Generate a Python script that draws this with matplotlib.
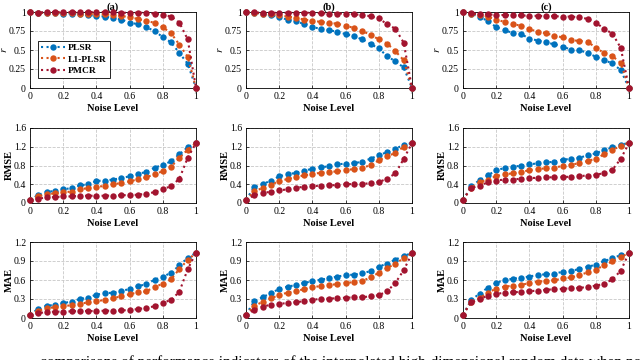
import matplotlib.pyplot as plt
import numpy as np

plt.rcParams['font.family'] = ['Liberation Serif', 'DejaVu Serif']
plt.rcParams['mathtext.fontset'] = 'stix'

noise = np.round(np.arange(0, 1.0001, 0.05), 2)
methods = ["PLSR", "L1-PLSR", "PMCR"]
colors = ["#0072BD", "#D95319", "#A2142F"]
panels = ["(a)", "(b)", "(c)"]

# r (correlation)
r_a = [[1, 0.99, 0.99, 0.99, 0.98, 0.98, 0.97, 0.96, 0.95, 0.94, 0.92, 0.90, 0.86, 0.84, 0.80, 0.75, 0.67, 0.60, 0.46, 0.32, 0],
       [1, 0.99, 0.99, 0.99, 0.99, 0.99, 0.98, 0.98, 0.97, 0.97, 0.96, 0.95, 0.93, 0.91, 0.88, 0.86, 0.80, 0.72, 0.57, 0.41, 0],
       [1, 0.99, 1, 1, 1, 1, 1, 1, 1, 1, 0.995, 0.99, 0.99, 0.99, 0.99, 0.98, 0.965, 0.94, 0.86, 0.64, 0]]
r_b = [[1, 0.99, 0.98, 0.96, 0.93, 0.90, 0.88, 0.84, 0.80, 0.78, 0.76, 0.74, 0.71, 0.68, 0.64, 0.58, 0.52, 0.42, 0.35, 0.27, 0],
       [1, 0.99, 0.98, 0.97, 0.96, 0.94, 0.925, 0.90, 0.885, 0.87, 0.86, 0.845, 0.82, 0.79, 0.75, 0.70, 0.64, 0.585, 0.485, 0.365, 0],
       [1, 0.995, 0.99, 0.99, 0.99, 0.99, 0.99, 0.99, 0.99, 0.985, 0.98, 0.98, 0.98, 0.97, 0.96, 0.945, 0.915, 0.84, 0.78, 0.595, 0]]
r_c = [[1, 0.98, 0.93, 0.885, 0.80, 0.765, 0.72, 0.71, 0.65, 0.625, 0.60, 0.575, 0.545, 0.505, 0.495, 0.465, 0.41, 0.365, 0.325, 0.235, 0],
       [1, 0.98, 0.96, 0.94, 0.90, 0.87, 0.84, 0.82, 0.775, 0.74, 0.72, 0.69, 0.665, 0.63, 0.62, 0.61, 0.53, 0.46, 0.42, 0.33, 0],
       [1, 0.985, 0.97, 0.97, 0.96, 0.96, 0.955, 0.955, 0.95, 0.95, 0.945, 0.945, 0.94, 0.94, 0.93, 0.91, 0.86, 0.78, 0.715, 0.53, 0]]

# RMSE
rmse_a = [[0.07, 0.17, 0.24, 0.255, 0.29, 0.32, 0.375, 0.40, 0.47, 0.48, 0.50, 0.53, 0.57, 0.625, 0.66, 0.755, 0.81, 0.89, 1.04, 1.19, 1.28],
          [0.07, 0.14, 0.19, 0.205, 0.235, 0.24, 0.29, 0.32, 0.35, 0.36, 0.40, 0.425, 0.46, 0.505, 0.55, 0.61, 0.68, 0.775, 0.96, 1.14, 1.28],
          [0.07, 0.09, 0.12, 0.125, 0.14, 0.14, 0.155, 0.155, 0.155, 0.155, 0.16, 0.165, 0.17, 0.175, 0.20, 0.23, 0.30, 0.355, 0.52, 0.965, 1.28]]
rmse_b = [[0.07, 0.34, 0.405, 0.475, 0.57, 0.61, 0.645, 0.69, 0.73, 0.765, 0.78, 0.825, 0.84, 0.85, 0.88, 0.945, 1.02, 1.085, 1.16, 1.235, 1.28],
          [0.07, 0.25, 0.32, 0.385, 0.47, 0.51, 0.55, 0.59, 0.62, 0.645, 0.66, 0.675, 0.70, 0.725, 0.745, 0.81, 0.91, 0.995, 1.07, 1.20, 1.28],
          [0.07, 0.165, 0.215, 0.24, 0.27, 0.29, 0.32, 0.35, 0.36, 0.37, 0.375, 0.385, 0.40, 0.405, 0.41, 0.42, 0.445, 0.52, 0.63, 0.94, 1.28]]
rmse_c = [[0.07, 0.355, 0.49, 0.59, 0.70, 0.745, 0.775, 0.795, 0.825, 0.845, 0.865, 0.88, 0.925, 0.94, 0.965, 1.015, 1.06, 1.13, 1.185, 1.245, 1.28],
          [0.07, 0.33, 0.445, 0.50, 0.575, 0.61, 0.635, 0.66, 0.70, 0.725, 0.74, 0.755, 0.79, 0.815, 0.85, 0.895, 0.945, 1.04, 1.13, 1.22, 1.28],
          [0.07, 0.32, 0.37, 0.44, 0.48, 0.50, 0.50, 0.52, 0.535, 0.535, 0.545, 0.55, 0.555, 0.56, 0.575, 0.585, 0.60, 0.64, 0.71, 0.94, 1.28]]

# MAE
mae_a = [[0.055, 0.145, 0.195, 0.205, 0.235, 0.26, 0.30, 0.32, 0.37, 0.39, 0.40, 0.43, 0.455, 0.505, 0.53, 0.605, 0.65, 0.715, 0.83, 0.95, 1.03],
         [0.055, 0.115, 0.155, 0.17, 0.19, 0.20, 0.225, 0.245, 0.265, 0.285, 0.315, 0.34, 0.375, 0.405, 0.42, 0.49, 0.54, 0.61, 0.775, 0.915, 1.03],
         [0.055, 0.075, 0.095, 0.10, 0.10, 0.105, 0.11, 0.11, 0.11, 0.115, 0.115, 0.12, 0.125, 0.14, 0.16, 0.185, 0.24, 0.285, 0.415, 0.77, 1.03]]
mae_b = [[0.055, 0.265, 0.33, 0.39, 0.46, 0.495, 0.52, 0.555, 0.58, 0.605, 0.625, 0.655, 0.675, 0.685, 0.705, 0.74, 0.81, 0.86, 0.92, 0.985, 1.02],
         [0.055, 0.19, 0.255, 0.31, 0.365, 0.40, 0.425, 0.455, 0.485, 0.505, 0.515, 0.54, 0.555, 0.565, 0.585, 0.64, 0.715, 0.79, 0.855, 0.945, 1.02],
         [0.055, 0.13, 0.18, 0.21, 0.225, 0.235, 0.25, 0.265, 0.29, 0.30, 0.305, 0.315, 0.32, 0.325, 0.33, 0.34, 0.36, 0.42, 0.555, 0.755, 1.02]]
mae_c = [[0.055, 0.285, 0.385, 0.48, 0.555, 0.60, 0.62, 0.635, 0.655, 0.68, 0.69, 0.70, 0.73, 0.74, 0.775, 0.81, 0.84, 0.90, 0.94, 0.995, 1.03],
         [0.055, 0.26, 0.315, 0.40, 0.465, 0.495, 0.51, 0.52, 0.555, 0.575, 0.585, 0.595, 0.625, 0.64, 0.675, 0.72, 0.765, 0.83, 0.895, 0.96, 1.03],
         [0.055, 0.245, 0.295, 0.355, 0.38, 0.40, 0.405, 0.415, 0.425, 0.43, 0.445, 0.455, 0.46, 0.47, 0.475, 0.49, 0.51, 0.54, 0.61, 0.745, 1.03]]

rows = [
    ([r_a, r_b, r_c], "$r$", [0, 0.25, 0.5, 0.75, 1], ["0", "0.25", "0.5", "0.75", "1"], 1.0),
    ([rmse_a, rmse_b, rmse_c], "RMSE", [0, 0.4, 0.8, 1.2, 1.6], ["0", "0.4", "0.8", "1.2", "1.6"], 1.6),
    ([mae_a, mae_b, mae_c], "MAE", [0, 0.3, 0.6, 0.9, 1.2], ["0", "0.3", "0.6", "0.9", "1.2"], 1.2),
]

W, H = 640, 360
lefts = [30, 246, 463]
tops = [12, 128, 242]
bottoms = [88, 203, 318]
aw = 166

fig = plt.figure(figsize=(6.4, 3.6), dpi=100)

for i, (data, ylab, yt, ytl, ymax) in enumerate(rows):
    for j in range(3):
        ax = fig.add_axes([lefts[j] / W, 1 - bottoms[i] / H, aw / W, (bottoms[i] - tops[i]) / H])
        for k in range(3):
            ax.plot(noise, data[j][k], ':', color=colors[k], lw=1.5, marker='o',
                    ms=4.6, mew=0, mfc=colors[k], label=methods[k], clip_on=False, zorder=3 + k)
        ax.set_xlim(0, 1)
        ax.set_ylim(0, ymax)
        ax.set_xticks([0, 0.2, 0.4, 0.6, 0.8, 1])
        ax.set_xticklabels(["0", "0.2", "0.4", "0.6", "0.8", "1"])
        ax.set_yticks(yt)
        ax.set_yticklabels(ytl)
        ax.tick_params(direction='in', length=2, width=0.5, labelsize=7, pad=3)
        ax.grid(True, ls='--', color='#c8c8c8', lw=0.6)
        for s in ax.spines.values():
            s.set_linewidth(0.6)
        ax.set_xlabel("Noise Level", fontsize=7.5, fontweight='bold', labelpad=2)
        if i == 0:
            ax.set_ylabel(ylab, fontsize=8)
            ax.yaxis.set_label_coords(-0.125, 0.5)
            ax.set_title(panels[j], fontsize=7.5, fontweight='bold', pad=1)
        else:
            ax.set_ylabel(ylab, fontsize=7.5, fontweight='bold')
            ax.yaxis.set_label_coords(-0.1, 0.5)
        if i == 0 and j == 0:
            leg = ax.legend(loc='lower left', bbox_to_anchor=(0.02, 0.07),
                            prop={'weight': 'bold', 'size': 6.8}, handlelength=2.6,
                            handletextpad=0.3, borderpad=0.3, labelspacing=0.3,
                            fancybox=False, edgecolor='black', framealpha=1)
            leg.get_frame().set_linewidth(0.6)

fig.text(40 / W, -6 / H, "comparisons of performance indicators of the interpolated high-dimensional random data when noise is injected into the",
         fontsize=11, ha='left', va='baseline')

fig.savefig("out.png", dpi=100)
